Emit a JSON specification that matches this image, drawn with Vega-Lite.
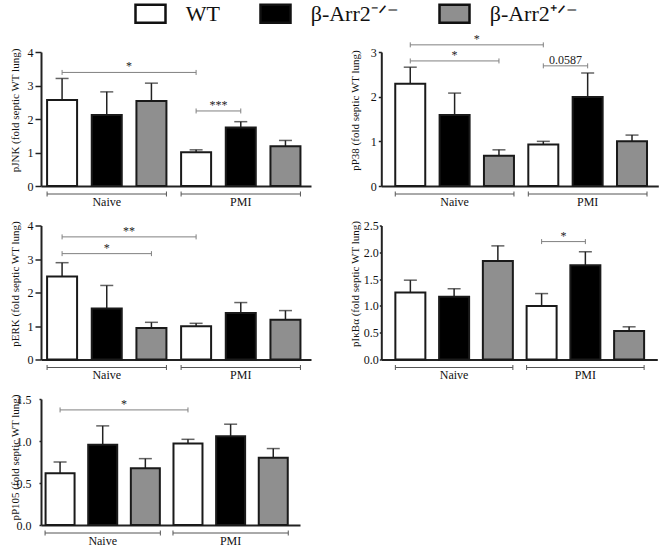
{
  "$schema": "https://vega.github.io/schema/vega-lite/v6.json",
  "background": "white",
  "padding": {"left": 8, "top": 2, "right": 3, "bottom": 2},
  "datasets": {
    "bars": [
      {"panel": "pJNK", "group": "Naive", "genotype": "WT", "idx": 0, "mean": 2.57, "upper": 3.21},
      {"panel": "pJNK", "group": "Naive", "genotype": "β-Arr2-/-", "idx": 1, "mean": 2.12, "upper": 2.81},
      {"panel": "pJNK", "group": "Naive", "genotype": "β-Arr2+/-", "idx": 2, "mean": 2.54, "upper": 3.07},
      {"panel": "pJNK", "group": "PMI", "genotype": "WT", "idx": 3, "mean": 1.01, "upper": 1.08},
      {"panel": "pJNK", "group": "PMI", "genotype": "β-Arr2-/-", "idx": 4, "mean": 1.75, "upper": 1.92},
      {"panel": "pJNK", "group": "PMI", "genotype": "β-Arr2+/-", "idx": 5, "mean": 1.19, "upper": 1.36},
      {"panel": "pP38", "group": "Naive", "genotype": "WT", "idx": 0, "mean": 2.29, "upper": 2.66},
      {"panel": "pP38", "group": "Naive", "genotype": "β-Arr2-/-", "idx": 1, "mean": 1.59, "upper": 2.08},
      {"panel": "pP38", "group": "Naive", "genotype": "β-Arr2+/-", "idx": 2, "mean": 0.68, "upper": 0.81},
      {"panel": "pP38", "group": "PMI", "genotype": "WT", "idx": 3, "mean": 0.93, "upper": 1.0},
      {"panel": "pP38", "group": "PMI", "genotype": "β-Arr2-/-", "idx": 4, "mean": 1.99, "upper": 2.53},
      {"panel": "pP38", "group": "PMI", "genotype": "β-Arr2+/-", "idx": 5, "mean": 1.0, "upper": 1.14},
      {"panel": "pERK", "group": "Naive", "genotype": "WT", "idx": 0, "mean": 2.48, "upper": 2.89},
      {"panel": "pERK", "group": "Naive", "genotype": "β-Arr2-/-", "idx": 1, "mean": 1.52, "upper": 2.21},
      {"panel": "pERK", "group": "Naive", "genotype": "β-Arr2+/-", "idx": 2, "mean": 0.94, "upper": 1.11},
      {"panel": "pERK", "group": "PMI", "genotype": "WT", "idx": 3, "mean": 0.99, "upper": 1.08},
      {"panel": "pERK", "group": "PMI", "genotype": "β-Arr2-/-", "idx": 4, "mean": 1.39, "upper": 1.7},
      {"panel": "pERK", "group": "PMI", "genotype": "β-Arr2+/-", "idx": 5, "mean": 1.19, "upper": 1.46},
      {"panel": "pIkBa", "group": "Naive", "genotype": "WT", "idx": 0, "mean": 1.25, "upper": 1.48},
      {"panel": "pIkBa", "group": "Naive", "genotype": "β-Arr2-/-", "idx": 1, "mean": 1.17, "upper": 1.32},
      {"panel": "pIkBa", "group": "Naive", "genotype": "β-Arr2+/-", "idx": 2, "mean": 1.84, "upper": 2.12},
      {"panel": "pIkBa", "group": "PMI", "genotype": "WT", "idx": 3, "mean": 1.0, "upper": 1.23},
      {"panel": "pIkBa", "group": "PMI", "genotype": "β-Arr2-/-", "idx": 4, "mean": 1.76, "upper": 2.01},
      {"panel": "pIkBa", "group": "PMI", "genotype": "β-Arr2+/-", "idx": 5, "mean": 0.53, "upper": 0.61},
      {"panel": "pP105", "group": "Naive", "genotype": "WT", "idx": 0, "mean": 0.615, "upper": 0.75},
      {"panel": "pP105", "group": "Naive", "genotype": "β-Arr2-/-", "idx": 1, "mean": 0.956, "upper": 1.18},
      {"panel": "pP105", "group": "Naive", "genotype": "β-Arr2+/-", "idx": 2, "mean": 0.675, "upper": 0.79},
      {"panel": "pP105", "group": "PMI", "genotype": "WT", "idx": 3, "mean": 0.97, "upper": 1.02},
      {"panel": "pP105", "group": "PMI", "genotype": "β-Arr2-/-", "idx": 4, "mean": 1.056, "upper": 1.2},
      {"panel": "pP105", "group": "PMI", "genotype": "β-Arr2+/-", "idx": 5, "mean": 0.8, "upper": 0.91}
    ],
    "sig": [
      {"panel": "pJNK", "from": 0, "to": 3, "level": 3.39, "label": "*"},
      {"panel": "pJNK", "from": 3, "to": 4, "level": 2.24, "label": "***"},
      {"panel": "pP38", "from": 0, "to": 3, "level": 3.16, "label": "*"},
      {"panel": "pP38", "from": 0, "to": 2, "level": 2.8, "label": "*"},
      {"panel": "pP38", "from": 3, "to": 4, "level": 2.69, "label": "0.0587"},
      {"panel": "pERK", "from": 0, "to": 3, "level": 3.66, "label": "**"},
      {"panel": "pERK", "from": 0, "to": 2, "level": 3.16, "label": "*"},
      {"panel": "pIkBa", "from": 3, "to": 4, "level": 2.2, "label": "*"},
      {"panel": "pP105", "from": 0, "to": 3, "level": 1.37, "label": "*"}
    ],
    "groups": [
      {"group": "Naive", "first": 0, "mid": 1, "last": 2},
      {"group": "PMI", "first": 3, "mid": 4, "last": 5}
    ]
  },
  "config": {
    "view": {"stroke": null},
    "font": "Liberation Serif",
    "axis": {
      "labelFont": "Liberation Serif", "titleFont": "Liberation Serif",
      "labelFontSize": 12, "titleFontSize": 11, "titleFontWeight": "normal",
      "labelColor": "#111", "titleColor": "#111", "labelOverlap": false, "labelFlush": false,
      "domainColor": "#222", "tickColor": "#222", "domainWidth": 2, "tickWidth": 1.5, "grid": false
    }
  },
  "columns": 1,
  "align": {"row": "each", "column": "none"},
  "spacing": 11.5,
  "concat": [
    {
      "hconcat": [
        {
          "width": 270, "height": 134,
          "layer": [
            {"data": {"name": "bars"}, "transform": [{"filter": "datum.panel === 'pJNK'"}],
             "mark": {"type": "rule", "stroke": "#222", "strokeWidth": 1.5},
             "encoding": {"x": {"field": "idx", "type": "quantitative"}, "y": {"field": "mean", "type": "quantitative"}, "y2": {"field": "upper"}}},
            {"data": {"name": "bars"}, "transform": [{"filter": "datum.panel === 'pJNK'"}],
             "mark": {"type": "tick", "orient": "horizontal", "size": 13, "thickness": 1.5, "color": "#222"},
             "encoding": {"x": {"field": "idx", "type": "quantitative"}, "y": {"field": "upper", "type": "quantitative"}}},
            {"data": {"name": "bars"}, "transform": [{"filter": "datum.panel === 'pJNK'"}],
             "mark": {"type": "bar", "width": 30, "stroke": "#1a1a1a", "strokeWidth": 2},
             "encoding": {
               "x": {"field": "idx", "type": "quantitative", "scale": {"domain": [-0.36, 5.46], "nice": false, "zero": false}, "axis": {"labels": false, "ticks": false, "title": null}},
               "y": {"field": "mean", "type": "quantitative", "stack": null, "scale": {"domain": [0, 4], "nice": false}, "axis": {"values": [0, 1, 2, 3, 4], "tickCount": 20, "format": "d", "labelOverlap": false, "title": "pJNK (fold septic WT lung)", "titleX": -21, "titleY": 58, "tickSize": 6, "labelPadding": 2}},
               "fill": {"field": "genotype", "type": "nominal", "scale": {"domain": ["WT", "β-Arr2-/-", "β-Arr2+/-"], "range": ["#ffffff", "#000000", "#8f8f8f"]},
                 "legend": {"title": null, "orient": "none", "legendX": 98, "legendY": -50, "direction": "horizontal", "symbolType": "M-1.5,-0.9H1.5V0.9H-1.5Z", "symbolSize": 400, "symbolStrokeWidth": 2.5, "symbolStrokeColor": "#111", "labelFont": "Liberation Serif", "labelFontSize": 22, "labelColor": "#111", "labelOffset": 23.7, "columnPadding": 35, "labelLimit": 0, "padding": 0,
                   "labelExpr": "datum.label === 'WT' ? 'WT' : (datum.label === 'β-Arr2-/-' ? 'β-Arr2⁻ᐟ⁻' : 'β-Arr2⁺ᐟ⁻')",
                   "encode": {"symbols": {"update": {"stroke": {"value": "#111"}, "strokeWidth": {"value": 2.5}}}}}}
             }},
            {"data": {"name": "sig"}, "transform": [{"filter": "datum.panel === 'pJNK'"}],
             "mark": {"type": "rule", "stroke": "#808080", "strokeWidth": 1},
             "encoding": {"x": {"field": "from", "type": "quantitative"}, "x2": {"field": "to"}, "y": {"field": "level", "type": "quantitative"}}},
            {"data": {"name": "sig"}, "transform": [{"filter": "datum.panel === 'pJNK'"}, {"fold": ["from", "to"], "as": ["end", "pos"]}],
             "mark": {"type": "rule", "stroke": "#808080", "strokeWidth": 1, "yOffset": -2.5, "y2Offset": 2.5},
             "encoding": {"x": {"field": "pos", "type": "quantitative"}, "y": {"field": "level", "type": "quantitative"}, "y2": {"field": "level"}}},
            {"data": {"name": "sig"}, "transform": [{"filter": "datum.panel === 'pJNK'"}, {"fold": ["from", "to"], "as": ["end", "pos"]}, {"aggregate": [{"op": "mean", "field": "pos", "as": "mid"}], "groupby": ["label", "level"]}],
             "mark": {"type": "text", "font": "Liberation Serif", "fontSize": 12, "baseline": "alphabetic", "dy": -2, "color": "#222", "fill": "#222"},
             "encoding": {"x": {"field": "mid", "type": "quantitative"}, "y": {"field": "level", "type": "quantitative"}, "text": {"field": "label"}}},
            {"data": {"name": "groups"},
             "mark": {"type": "rule", "stroke": "#555", "strokeWidth": 1, "xOffset": -15, "x2Offset": 15, "yOffset": 8},
             "encoding": {"x": {"field": "first", "type": "quantitative"}, "x2": {"field": "last"}, "y": {"datum": 0}}},
            {"data": {"name": "groups"},
             "mark": {"type": "rule", "stroke": "#555", "strokeWidth": 1, "xOffset": -15, "yOffset": 5.5, "y2Offset": 10.5},
             "encoding": {"x": {"field": "first", "type": "quantitative"}, "y": {"datum": 0}, "y2": {"datum": 0}}},
            {"data": {"name": "groups"},
             "mark": {"type": "rule", "stroke": "#555", "strokeWidth": 1, "xOffset": 15, "yOffset": 5.5, "y2Offset": 10.5},
             "encoding": {"x": {"field": "last", "type": "quantitative"}, "y": {"datum": 0}, "y2": {"datum": 0}}},
            {"data": {"name": "groups"},
             "mark": {"type": "text", "font": "Liberation Serif", "fontSize": 12, "baseline": "alphabetic", "yOffset": 19.5, "color": "#111", "fill": "#111"},
             "encoding": {"x": {"field": "mid", "type": "quantitative"}, "y": {"datum": 0}, "text": {"field": "group"}}}
          ]
        },
        {
          "width": 277, "height": 134,
          "layer": [
            {"data": {"name": "bars"}, "transform": [{"filter": "datum.panel === 'pP38'"}],
             "mark": {"type": "rule", "stroke": "#222", "strokeWidth": 1.5},
             "encoding": {"x": {"field": "idx", "type": "quantitative"}, "y": {"field": "mean", "type": "quantitative"}, "y2": {"field": "upper"}}},
            {"data": {"name": "bars"}, "transform": [{"filter": "datum.panel === 'pP38'"}],
             "mark": {"type": "tick", "orient": "horizontal", "size": 13, "thickness": 1.5, "color": "#222"},
             "encoding": {"x": {"field": "idx", "type": "quantitative"}, "y": {"field": "upper", "type": "quantitative"}}},
            {"data": {"name": "bars"}, "transform": [{"filter": "datum.panel === 'pP38'"}],
             "mark": {"type": "bar", "width": 30, "stroke": "#1a1a1a", "strokeWidth": 2},
             "encoding": {
               "x": {"field": "idx", "type": "quantitative", "scale": {"domain": [-0.54, 5.48], "nice": false, "zero": false}, "axis": {"labels": false, "ticks": false, "title": null}},
               "y": {"field": "mean", "type": "quantitative", "stack": null, "scale": {"domain": [0, 3], "nice": false}, "axis": {"values": [0, 1, 2, 3], "tickCount": 20, "format": "d", "labelOverlap": false, "title": "pP38 (fold septic WT lung)", "titleX": -21, "titleY": 58, "tickSize": 3, "labelPadding": 2}},
               "fill": {"field": "genotype", "type": "nominal", "scale": {"domain": ["WT", "β-Arr2-/-", "β-Arr2+/-"], "range": ["#ffffff", "#000000", "#8f8f8f"]},
                 "legend": {"title": null, "orient": "none", "legendX": 98, "legendY": -50, "direction": "horizontal", "symbolType": "M-1.5,-0.9H1.5V0.9H-1.5Z", "symbolSize": 400, "symbolStrokeWidth": 2.5, "symbolStrokeColor": "#111", "labelFont": "Liberation Serif", "labelFontSize": 22, "labelColor": "#111", "labelOffset": 23.7, "columnPadding": 35, "labelLimit": 0, "padding": 0,
                   "labelExpr": "datum.label === 'WT' ? 'WT' : (datum.label === 'β-Arr2-/-' ? 'β-Arr2⁻ᐟ⁻' : 'β-Arr2⁺ᐟ⁻')",
                   "encode": {"symbols": {"update": {"stroke": {"value": "#111"}, "strokeWidth": {"value": 2.5}}}}}}
             }},
            {"data": {"name": "sig"}, "transform": [{"filter": "datum.panel === 'pP38'"}],
             "mark": {"type": "rule", "stroke": "#808080", "strokeWidth": 1},
             "encoding": {"x": {"field": "from", "type": "quantitative"}, "x2": {"field": "to"}, "y": {"field": "level", "type": "quantitative"}}},
            {"data": {"name": "sig"}, "transform": [{"filter": "datum.panel === 'pP38'"}, {"fold": ["from", "to"], "as": ["end", "pos"]}],
             "mark": {"type": "rule", "stroke": "#808080", "strokeWidth": 1, "yOffset": -2.5, "y2Offset": 2.5},
             "encoding": {"x": {"field": "pos", "type": "quantitative"}, "y": {"field": "level", "type": "quantitative"}, "y2": {"field": "level"}}},
            {"data": {"name": "sig"}, "transform": [{"filter": "datum.panel === 'pP38'"}, {"fold": ["from", "to"], "as": ["end", "pos"]}, {"aggregate": [{"op": "mean", "field": "pos", "as": "mid"}], "groupby": ["label", "level"]}],
             "mark": {"type": "text", "font": "Liberation Serif", "fontSize": 12, "baseline": "alphabetic", "dy": -2, "color": "#222", "fill": "#222"},
             "encoding": {"x": {"field": "mid", "type": "quantitative"}, "y": {"field": "level", "type": "quantitative"}, "text": {"field": "label"}}},
            {"data": {"name": "groups"},
             "mark": {"type": "rule", "stroke": "#555", "strokeWidth": 1, "xOffset": -15, "x2Offset": 15, "yOffset": 8},
             "encoding": {"x": {"field": "first", "type": "quantitative"}, "x2": {"field": "last"}, "y": {"datum": 0}}},
            {"data": {"name": "groups"},
             "mark": {"type": "rule", "stroke": "#555", "strokeWidth": 1, "xOffset": -15, "yOffset": 5.5, "y2Offset": 10.5},
             "encoding": {"x": {"field": "first", "type": "quantitative"}, "y": {"datum": 0}, "y2": {"datum": 0}}},
            {"data": {"name": "groups"},
             "mark": {"type": "rule", "stroke": "#555", "strokeWidth": 1, "xOffset": 15, "yOffset": 5.5, "y2Offset": 10.5},
             "encoding": {"x": {"field": "last", "type": "quantitative"}, "y": {"datum": 0}, "y2": {"datum": 0}}},
            {"data": {"name": "groups"},
             "mark": {"type": "text", "font": "Liberation Serif", "fontSize": 12, "baseline": "alphabetic", "yOffset": 19.5, "color": "#111", "fill": "#111"},
             "encoding": {"x": {"field": "mid", "type": "quantitative"}, "y": {"datum": 0}, "text": {"field": "group"}}}
          ]
        }
      ],
      "spacing": 70.3,
      "bounds": "flush"
    },
    {
      "hconcat": [
        {
          "width": 270, "height": 134,
          "layer": [
            {"data": {"name": "bars"}, "transform": [{"filter": "datum.panel === 'pERK'"}],
             "mark": {"type": "rule", "stroke": "#222", "strokeWidth": 1.5},
             "encoding": {"x": {"field": "idx", "type": "quantitative"}, "y": {"field": "mean", "type": "quantitative"}, "y2": {"field": "upper"}}},
            {"data": {"name": "bars"}, "transform": [{"filter": "datum.panel === 'pERK'"}],
             "mark": {"type": "tick", "orient": "horizontal", "size": 13, "thickness": 1.5, "color": "#222"},
             "encoding": {"x": {"field": "idx", "type": "quantitative"}, "y": {"field": "upper", "type": "quantitative"}}},
            {"data": {"name": "bars"}, "transform": [{"filter": "datum.panel === 'pERK'"}],
             "mark": {"type": "bar", "width": 30, "stroke": "#1a1a1a", "strokeWidth": 2},
             "encoding": {
               "x": {"field": "idx", "type": "quantitative", "scale": {"domain": [-0.36, 5.46], "nice": false, "zero": false}, "axis": {"labels": false, "ticks": false, "title": null}},
               "y": {"field": "mean", "type": "quantitative", "stack": null, "scale": {"domain": [0, 4], "nice": false}, "axis": {"values": [0, 1, 2, 3, 4], "tickCount": 20, "format": "d", "labelOverlap": false, "title": "pERK (fold septic WT lung)", "titleX": -21, "titleY": 58, "tickSize": 6, "labelPadding": 2}},
               "fill": {"field": "genotype", "type": "nominal", "scale": {"domain": ["WT", "β-Arr2-/-", "β-Arr2+/-"], "range": ["#ffffff", "#000000", "#8f8f8f"]},
                 "legend": {"title": null, "orient": "none", "legendX": 98, "legendY": -50, "direction": "horizontal", "symbolType": "M-1.5,-0.9H1.5V0.9H-1.5Z", "symbolSize": 400, "symbolStrokeWidth": 2.5, "symbolStrokeColor": "#111", "labelFont": "Liberation Serif", "labelFontSize": 22, "labelColor": "#111", "labelOffset": 23.7, "columnPadding": 35, "labelLimit": 0, "padding": 0,
                   "labelExpr": "datum.label === 'WT' ? 'WT' : (datum.label === 'β-Arr2-/-' ? 'β-Arr2⁻ᐟ⁻' : 'β-Arr2⁺ᐟ⁻')",
                   "encode": {"symbols": {"update": {"stroke": {"value": "#111"}, "strokeWidth": {"value": 2.5}}}}}}
             }},
            {"data": {"name": "sig"}, "transform": [{"filter": "datum.panel === 'pERK'"}],
             "mark": {"type": "rule", "stroke": "#808080", "strokeWidth": 1},
             "encoding": {"x": {"field": "from", "type": "quantitative"}, "x2": {"field": "to"}, "y": {"field": "level", "type": "quantitative"}}},
            {"data": {"name": "sig"}, "transform": [{"filter": "datum.panel === 'pERK'"}, {"fold": ["from", "to"], "as": ["end", "pos"]}],
             "mark": {"type": "rule", "stroke": "#808080", "strokeWidth": 1, "yOffset": -2.5, "y2Offset": 2.5},
             "encoding": {"x": {"field": "pos", "type": "quantitative"}, "y": {"field": "level", "type": "quantitative"}, "y2": {"field": "level"}}},
            {"data": {"name": "sig"}, "transform": [{"filter": "datum.panel === 'pERK'"}, {"fold": ["from", "to"], "as": ["end", "pos"]}, {"aggregate": [{"op": "mean", "field": "pos", "as": "mid"}], "groupby": ["label", "level"]}],
             "mark": {"type": "text", "font": "Liberation Serif", "fontSize": 12, "baseline": "alphabetic", "dy": -2, "color": "#222", "fill": "#222"},
             "encoding": {"x": {"field": "mid", "type": "quantitative"}, "y": {"field": "level", "type": "quantitative"}, "text": {"field": "label"}}},
            {"data": {"name": "groups"},
             "mark": {"type": "rule", "stroke": "#555", "strokeWidth": 1, "xOffset": -15, "x2Offset": 15, "yOffset": 8},
             "encoding": {"x": {"field": "first", "type": "quantitative"}, "x2": {"field": "last"}, "y": {"datum": 0}}},
            {"data": {"name": "groups"},
             "mark": {"type": "rule", "stroke": "#555", "strokeWidth": 1, "xOffset": -15, "yOffset": 5.5, "y2Offset": 10.5},
             "encoding": {"x": {"field": "first", "type": "quantitative"}, "y": {"datum": 0}, "y2": {"datum": 0}}},
            {"data": {"name": "groups"},
             "mark": {"type": "rule", "stroke": "#555", "strokeWidth": 1, "xOffset": 15, "yOffset": 5.5, "y2Offset": 10.5},
             "encoding": {"x": {"field": "last", "type": "quantitative"}, "y": {"datum": 0}, "y2": {"datum": 0}}},
            {"data": {"name": "groups"},
             "mark": {"type": "text", "font": "Liberation Serif", "fontSize": 12, "baseline": "alphabetic", "yOffset": 19.5, "color": "#111", "fill": "#111"},
             "encoding": {"x": {"field": "mid", "type": "quantitative"}, "y": {"datum": 0}, "text": {"field": "group"}}}
          ]
        },
        {
          "width": 276, "height": 134,
          "layer": [
            {"data": {"name": "bars"}, "transform": [{"filter": "datum.panel === 'pIkBa'"}],
             "mark": {"type": "rule", "stroke": "#222", "strokeWidth": 1.5},
             "encoding": {"x": {"field": "idx", "type": "quantitative"}, "y": {"field": "mean", "type": "quantitative"}, "y2": {"field": "upper"}}},
            {"data": {"name": "bars"}, "transform": [{"filter": "datum.panel === 'pIkBa'"}],
             "mark": {"type": "tick", "orient": "horizontal", "size": 13, "thickness": 1.5, "color": "#222"},
             "encoding": {"x": {"field": "idx", "type": "quantitative"}, "y": {"field": "upper", "type": "quantitative"}}},
            {"data": {"name": "bars"}, "transform": [{"filter": "datum.panel === 'pIkBa'"}],
             "mark": {"type": "bar", "width": 30, "stroke": "#1a1a1a", "strokeWidth": 2},
             "encoding": {
               "x": {"field": "idx", "type": "quantitative", "scale": {"domain": [-0.55, 5.53], "nice": false, "zero": false}, "axis": {"labels": false, "ticks": false, "title": null}},
               "y": {"field": "mean", "type": "quantitative", "stack": null, "scale": {"domain": [0, 2.5], "nice": false}, "axis": {"values": [0, 0.5, 1, 1.5, 2, 2.5], "tickCount": 20, "format": ".1f", "labelOverlap": false, "title": "pIκBα (fold septic WT lung)", "titleX": -21, "titleY": 58, "tickSize": 2, "labelPadding": 1}},
               "fill": {"field": "genotype", "type": "nominal", "scale": {"domain": ["WT", "β-Arr2-/-", "β-Arr2+/-"], "range": ["#ffffff", "#000000", "#8f8f8f"]},
                 "legend": {"title": null, "orient": "none", "legendX": 98, "legendY": -50, "direction": "horizontal", "symbolType": "M-1.5,-0.9H1.5V0.9H-1.5Z", "symbolSize": 400, "symbolStrokeWidth": 2.5, "symbolStrokeColor": "#111", "labelFont": "Liberation Serif", "labelFontSize": 22, "labelColor": "#111", "labelOffset": 23.7, "columnPadding": 35, "labelLimit": 0, "padding": 0,
                   "labelExpr": "datum.label === 'WT' ? 'WT' : (datum.label === 'β-Arr2-/-' ? 'β-Arr2⁻ᐟ⁻' : 'β-Arr2⁺ᐟ⁻')",
                   "encode": {"symbols": {"update": {"stroke": {"value": "#111"}, "strokeWidth": {"value": 2.5}}}}}}
             }},
            {"data": {"name": "sig"}, "transform": [{"filter": "datum.panel === 'pIkBa'"}],
             "mark": {"type": "rule", "stroke": "#808080", "strokeWidth": 1},
             "encoding": {"x": {"field": "from", "type": "quantitative"}, "x2": {"field": "to"}, "y": {"field": "level", "type": "quantitative"}}},
            {"data": {"name": "sig"}, "transform": [{"filter": "datum.panel === 'pIkBa'"}, {"fold": ["from", "to"], "as": ["end", "pos"]}],
             "mark": {"type": "rule", "stroke": "#808080", "strokeWidth": 1, "yOffset": -2.5, "y2Offset": 2.5},
             "encoding": {"x": {"field": "pos", "type": "quantitative"}, "y": {"field": "level", "type": "quantitative"}, "y2": {"field": "level"}}},
            {"data": {"name": "sig"}, "transform": [{"filter": "datum.panel === 'pIkBa'"}, {"fold": ["from", "to"], "as": ["end", "pos"]}, {"aggregate": [{"op": "mean", "field": "pos", "as": "mid"}], "groupby": ["label", "level"]}],
             "mark": {"type": "text", "font": "Liberation Serif", "fontSize": 12, "baseline": "alphabetic", "dy": -2, "color": "#222", "fill": "#222"},
             "encoding": {"x": {"field": "mid", "type": "quantitative"}, "y": {"field": "level", "type": "quantitative"}, "text": {"field": "label"}}},
            {"data": {"name": "groups"},
             "mark": {"type": "rule", "stroke": "#555", "strokeWidth": 1, "xOffset": -15, "x2Offset": 15, "yOffset": 8},
             "encoding": {"x": {"field": "first", "type": "quantitative"}, "x2": {"field": "last"}, "y": {"datum": 0}}},
            {"data": {"name": "groups"},
             "mark": {"type": "rule", "stroke": "#555", "strokeWidth": 1, "xOffset": -15, "yOffset": 5.5, "y2Offset": 10.5},
             "encoding": {"x": {"field": "first", "type": "quantitative"}, "y": {"datum": 0}, "y2": {"datum": 0}}},
            {"data": {"name": "groups"},
             "mark": {"type": "rule", "stroke": "#555", "strokeWidth": 1, "xOffset": 15, "yOffset": 5.5, "y2Offset": 10.5},
             "encoding": {"x": {"field": "last", "type": "quantitative"}, "y": {"datum": 0}, "y2": {"datum": 0}}},
            {"data": {"name": "groups"},
             "mark": {"type": "text", "font": "Liberation Serif", "fontSize": 12, "baseline": "alphabetic", "yOffset": 19.5, "color": "#111", "fill": "#111"},
             "encoding": {"x": {"field": "mid", "type": "quantitative"}, "y": {"datum": 0}, "text": {"field": "group"}}}
          ]
        }
      ],
      "spacing": 70.3,
      "bounds": "flush"
    },
    {
      "width": 259, "height": 126,
      "layer": [
        {"data": {"name": "bars"}, "transform": [{"filter": "datum.panel === 'pP105'"}],
         "mark": {"type": "rule", "stroke": "#222", "strokeWidth": 1.5},
         "encoding": {"x": {"field": "idx", "type": "quantitative"}, "y": {"field": "mean", "type": "quantitative"}, "y2": {"field": "upper"}}},
        {"data": {"name": "bars"}, "transform": [{"filter": "datum.panel === 'pP105'"}],
         "mark": {"type": "tick", "orient": "horizontal", "size": 13, "thickness": 1.5, "color": "#222"},
         "encoding": {"x": {"field": "idx", "type": "quantitative"}, "y": {"field": "upper", "type": "quantitative"}}},
        {"data": {"name": "bars"}, "transform": [{"filter": "datum.panel === 'pP105'"}],
         "mark": {"type": "bar", "width": 29, "stroke": "#1a1a1a", "strokeWidth": 2},
         "encoding": {
           "x": {"field": "idx", "type": "quantitative", "scale": {"domain": [-0.33, 5.51], "nice": false, "zero": false}, "axis": {"labels": false, "ticks": false, "title": null}},
           "y": {"field": "mean", "type": "quantitative", "stack": null, "scale": {"domain": [0, 1.5], "nice": false}, "axis": {"values": [0, 0.5, 1, 1.5], "tickCount": 20, "format": ".1f", "labelOverlap": false, "title": "pP105 (fold septic WT lung)", "titleX": -21, "titleY": 58, "tickSize": 2, "labelPadding": 8}},
           "fill": {"field": "genotype", "type": "nominal", "scale": {"domain": ["WT", "β-Arr2-/-", "β-Arr2+/-"], "range": ["#ffffff", "#000000", "#8f8f8f"]},
             "legend": {"title": null, "orient": "none", "legendX": 98, "legendY": -50, "direction": "horizontal", "symbolType": "M-1.5,-0.9H1.5V0.9H-1.5Z", "symbolSize": 400, "symbolStrokeWidth": 2.5, "symbolStrokeColor": "#111", "labelFont": "Liberation Serif", "labelFontSize": 22, "labelColor": "#111", "labelOffset": 23.7, "columnPadding": 35, "labelLimit": 0, "padding": 0,
               "labelExpr": "datum.label === 'WT' ? 'WT' : (datum.label === 'β-Arr2-/-' ? 'β-Arr2⁻ᐟ⁻' : 'β-Arr2⁺ᐟ⁻')",
               "encode": {"symbols": {"update": {"stroke": {"value": "#111"}, "strokeWidth": {"value": 2.5}}}}}}
         }},
        {"data": {"name": "sig"}, "transform": [{"filter": "datum.panel === 'pP105'"}],
         "mark": {"type": "rule", "stroke": "#808080", "strokeWidth": 1},
         "encoding": {"x": {"field": "from", "type": "quantitative"}, "x2": {"field": "to"}, "y": {"field": "level", "type": "quantitative"}}},
        {"data": {"name": "sig"}, "transform": [{"filter": "datum.panel === 'pP105'"}, {"fold": ["from", "to"], "as": ["end", "pos"]}],
         "mark": {"type": "rule", "stroke": "#808080", "strokeWidth": 1, "yOffset": -2.5, "y2Offset": 2.5},
         "encoding": {"x": {"field": "pos", "type": "quantitative"}, "y": {"field": "level", "type": "quantitative"}, "y2": {"field": "level"}}},
        {"data": {"name": "sig"}, "transform": [{"filter": "datum.panel === 'pP105'"}, {"fold": ["from", "to"], "as": ["end", "pos"]}, {"aggregate": [{"op": "mean", "field": "pos", "as": "mid"}], "groupby": ["label", "level"]}],
         "mark": {"type": "text", "font": "Liberation Serif", "fontSize": 12, "baseline": "alphabetic", "dy": -2, "color": "#222", "fill": "#222"},
         "encoding": {"x": {"field": "mid", "type": "quantitative"}, "y": {"field": "level", "type": "quantitative"}, "text": {"field": "label"}}},
        {"data": {"name": "groups"},
         "mark": {"type": "rule", "stroke": "#555", "strokeWidth": 1, "xOffset": -15, "x2Offset": 15, "yOffset": 8},
         "encoding": {"x": {"field": "first", "type": "quantitative"}, "x2": {"field": "last"}, "y": {"datum": 0}}},
        {"data": {"name": "groups"},
         "mark": {"type": "rule", "stroke": "#555", "strokeWidth": 1, "xOffset": -15, "yOffset": 5.5, "y2Offset": 10.5},
         "encoding": {"x": {"field": "first", "type": "quantitative"}, "y": {"datum": 0}, "y2": {"datum": 0}}},
        {"data": {"name": "groups"},
         "mark": {"type": "rule", "stroke": "#555", "strokeWidth": 1, "xOffset": 15, "yOffset": 5.5, "y2Offset": 10.5},
         "encoding": {"x": {"field": "last", "type": "quantitative"}, "y": {"datum": 0}, "y2": {"datum": 0}}},
        {"data": {"name": "groups"},
         "mark": {"type": "text", "font": "Liberation Serif", "fontSize": 12, "baseline": "alphabetic", "yOffset": 19.5, "color": "#111", "fill": "#111"},
         "encoding": {"x": {"field": "mid", "type": "quantitative"}, "y": {"datum": 0}, "text": {"field": "group"}}}
      ]
    }
  ]
}
